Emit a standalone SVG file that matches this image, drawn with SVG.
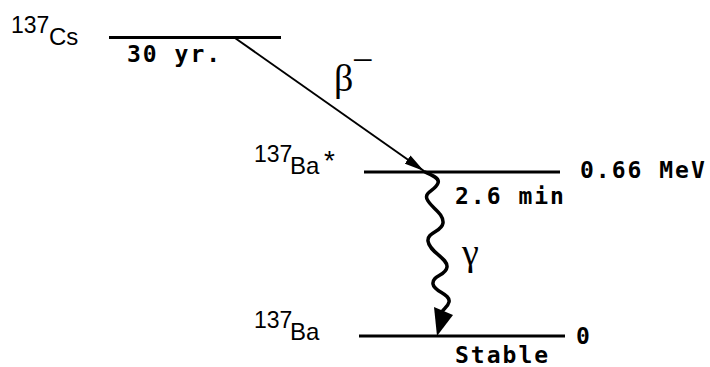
<svg xmlns="http://www.w3.org/2000/svg" width="710" height="367" viewBox="0 0 710 367">
<style>
.lvl{stroke:#000;stroke-width:3;fill:none}
.nuc{font-family:"Liberation Sans",Arial,sans-serif;font-size:23px;fill:#000}
.mono{font-family:"DejaVu Sans Mono",monospace;font-size:23px;font-weight:bold;letter-spacing:2px;fill:#000}
.greek{font-family:"Liberation Serif","Times New Roman",serif;fill:#000}
</style>
<defs>
<marker id="ah" viewBox="0 0 20 10" refX="20" refY="5" markerWidth="20" markerHeight="10" markerUnits="userSpaceOnUse" orient="auto">
<path d="M0,0 L20,5 L0,10 Z" fill="#000"/>
</marker>
</defs>
<rect width="710" height="367" fill="#fff"/>
<g id="cs137">
<line class="lvl" x1="109" y1="37.5" x2="281" y2="37.5"/>
<text class="nuc" x="11" y="33">137<tspan x="49" y="45" font-size="24">Cs</tspan></text>
<text class="mono" x="127" y="62">30 yr.</text>
</g>
<g id="ba137m">
<line class="lvl" x1="364" y1="172" x2="560" y2="172"/>
<text class="nuc" x="254" y="162">137<tspan x="290" y="174" font-size="24">Ba</tspan><tspan x="324" y="170" font-size="28">*</tspan></text>
<text class="mono" x="580" y="178">0.66 MeV</text>
<text class="mono" x="455" y="204">2.6 min</text>
</g>
<g id="ba137">
<line class="lvl" x1="359" y1="336" x2="565" y2="336"/>
<text class="nuc" x="254" y="328">137<tspan x="290" y="340" font-size="24">Ba</tspan></text>
<text class="mono" x="576" y="344">0</text>
<text class="mono" x="455" y="363">Stable</text>
</g>
<g id="connectors">
<line x1="235" y1="38" x2="424" y2="171" stroke="#000" stroke-width="2" marker-end="url(#ah)"/>
<text class="greek" x="334" y="91" font-size="38">β</text>
<text class="greek" x="352" y="73" font-size="38">−</text>
<path d="M425,172 C432,175 440,178 438,183 C436,190 424,192 427,199 C430,207 444,213 443,223 C442,232 427,232 428,241 C429,252 448,258 447,267 C446,276 432,275 433,284 C434,292 451,294 449,302 C448,307 443,309 442,312" fill="none" stroke="#000" stroke-width="3.5" stroke-linejoin="round" stroke-linecap="round"/>
<path d="M434,307 L453,315 L437,336 Z" fill="#000"/>
<text class="greek" x="462" y="265" font-size="38">γ</text>
</g>
</svg>
